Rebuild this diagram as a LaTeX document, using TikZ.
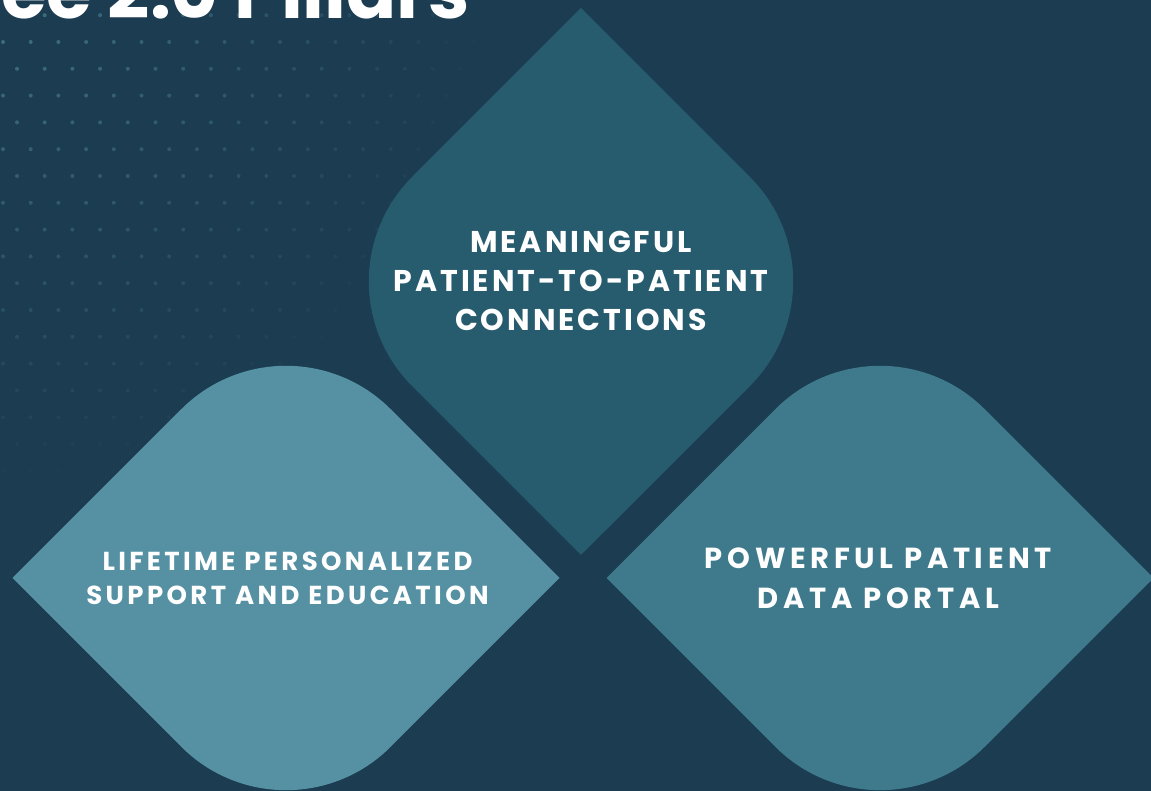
\documentclass[tikz,border=0pt]{standalone}
\usepackage{fontspec}
\setmainfont{Poppins}
\newfontfamily\pilfont{Poppins}
\definecolor{bgcol}{HTML}{1B3C51}
\definecolor{topcol}{HTML}{275B6E}
\definecolor{leftcol}{HTML}{5591A3}
\definecolor{rightcol}{HTML}{3E7A8B}
\definecolor{dotcol}{HTML}{3F6E7E}
\tikzset{
  pillarv/.pic={\fill[pic actions] (0,273.5) -- (168.85,104.65) arc[start angle=45,end angle=-45,radius=148] -- (0,-273.5) -- (-168.85,-104.65) arc[start angle=225,end angle=135,radius=148] -- cycle;},
  pillarh/.pic={\fill[pic actions] (-273.5,0) -- (-104.65,168.85) arc[start angle=135,end angle=45,radius=148] -- (273.5,0) -- (104.65,-168.85) arc[start angle=-45,end angle=-135,radius=148] -- cycle;},
  pilltext/.style={text=white, align=center, inner sep=0pt},
}
\begin{document}
\begin{tikzpicture}[x=1pt,y=1pt]
\useasboundingbox (0,0) rectangle (1151,791);
\fill[bgcol] (0,0) rectangle (1151,791);
\begin{scope}
\clip (0,0) rectangle (1151,791);
% dot pattern
\foreach \k in {-1,...,18} {
  \pgfmathsetmacro\yy{42+26.8*\k}
  \pgfmathsetmacro\off{mod(\k+10,2)==1 ? 17 : 3}
  \foreach \j in {0,...,19} {
    \pgfmathsetmacro\xx{\off+27.7*\j}
    \pgfmathsetmacro\dd{veclen(\xx,\yy)}
    \pgfmathsetmacro\op{max(0,min(1,1.05-\dd/480))}
    \fill[dotcol, opacity=\op] (\xx,791-\yy) circle (2);
  }
}
% pillars
\pic[fill=topcol] at (581,509.5) {pillarv};
\pic[fill=leftcol] at (286,213) {pillarh};
\pic[fill=rightcol] at (880,213) {pillarh};
% texts
\node[pilltext, font=\pilfont\bfseries\addfontfeatures{LetterSpace=10}\fontsize{30}{39}\selectfont] (meaning) at (581,510) {MEANINGFUL\\PATIENT-TO-PATIENT\\CONNECTIONS};
\node[pilltext, font=\pilfont\bfseries\addfontfeatures{LetterSpace=13}\fontsize{26}{34}\selectfont] (lifetime) at (287.5,213) {LIFETIME PERSONALIZED\\SUPPORT AND EDUCATION};
\node[pilltext, font=\pilfont\bfseries\addfontfeatures{LetterSpace=16}\fontsize{29}{40}\selectfont] (portal) at (878.5,213) {POWERFUL PATIENT\\DATA PORTAL};
% title
\node[anchor=base east, text=white, inner sep=0pt, font=\bfseries\fontsize{74}{74}\selectfont] (title) at (470,772) {ee 2.0 Pillars};
\end{scope}
\end{tikzpicture}
\end{document}
